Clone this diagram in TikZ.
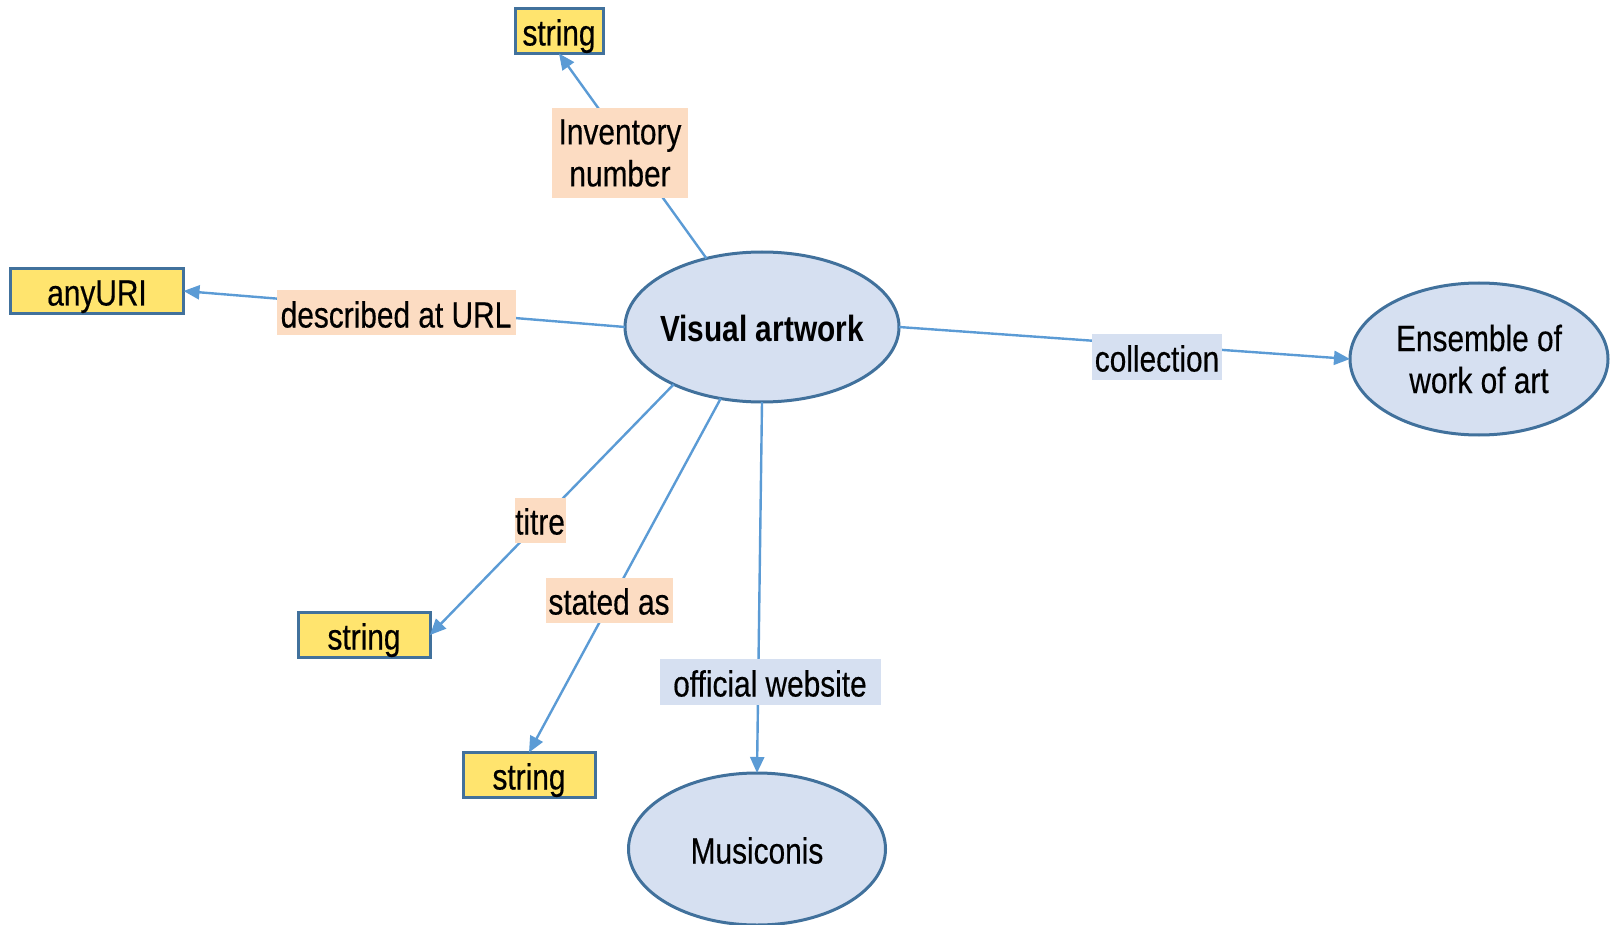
\documentclass[tikz,border=0pt]{standalone}
\usepackage{fontspec}
\setmainfont{Liberation Sans}[FakeStretch=0.82, UprightFeatures={FakeBold=0.4}]
\usetikzlibrary{arrows.meta,shapes.geometric}
\definecolor{lnk}{RGB}{91,155,213}
\definecolor{bord}{RGB}{65,113,156}
\definecolor{lit}{RGB}{255,228,110}
\definecolor{peach}{RGB}{252,220,194}
\definecolor{cls}{RGB}{214,224,241}
\begin{document}
\begin{tikzpicture}[x=1pt,y=-1pt,
  every node/.style={font=\fontsize{36.4}{42}\selectfont, inner sep=0pt, outer sep=0pt},
  oneline/.style={text height=33pt, text depth=4pt},
  litbox/.style={rectangle, draw=bord, line width=3pt, fill=lit, minimum height=45pt, oneline},
  classell/.style={ellipse, draw=bord, line width=3pt, fill=cls, inner sep=-40pt},
  plabel/.style={rectangle, fill=peach, minimum height=45pt},
  blabel/.style={rectangle, fill=cls, minimum height=46pt},
  conn/.style={draw=lnk, line width=2.4pt, -{Triangle[length=16pt,width=14pt]}}]
\useasboundingbox (0,0) rectangle (1612,925);
% main nodes
\node[classell, minimum width=274pt, minimum height=150pt, oneline, font=\fontsize{36.4}{42}\selectfont\bfseries] (va) at (762,327) {Visual artwork};
\node[classell, minimum width=258pt, minimum height=152pt, align=center] (ens) at (1479,359) {Ensemble of\\work of art};
\node[classell, minimum width=257pt, minimum height=152pt, oneline] (mus) at (757,849) {Musiconis};
\node[litbox, minimum width=88pt] (s1) at (559,31) {string};
\node[litbox, minimum width=173pt] (uri) at (97,291) {anyURI};
\node[litbox, minimum width=132pt] (sl) at (364,635) {string};
\node[litbox, minimum width=132pt] (sb) at (529,775) {string};
% connectors
\draw[conn] (va.129) -- (s1.south);
\draw[conn] (va.west) -- (uri.east);
\draw[conn] (va.east) -- (ens.west);
\draw[conn] (va.213) -- (sl.east);
\draw[conn] (va.240) -- (sb.north);
\draw[conn] (va.south) -- (mus.north);
% labels
\node[plabel, minimum width=136pt, minimum height=90pt, align=center] (linv) at (620,153) {Inventory\\number};
\node[plabel, minimum width=239pt, oneline] (ldesc) at (396,313) {described at URL};
\node[blabel, minimum width=130pt, oneline] (lcoll) at (1157,357) {collection};
\node[plabel, minimum width=51pt, oneline] (ltitre) at (540,520) {titre};
\node[plabel, minimum width=127pt, oneline] (lstated) at (609,600) {stated as};
\node[blabel, minimum width=221pt, oneline] (loff) at (770,682) {official website};
\end{tikzpicture}
\end{document}
